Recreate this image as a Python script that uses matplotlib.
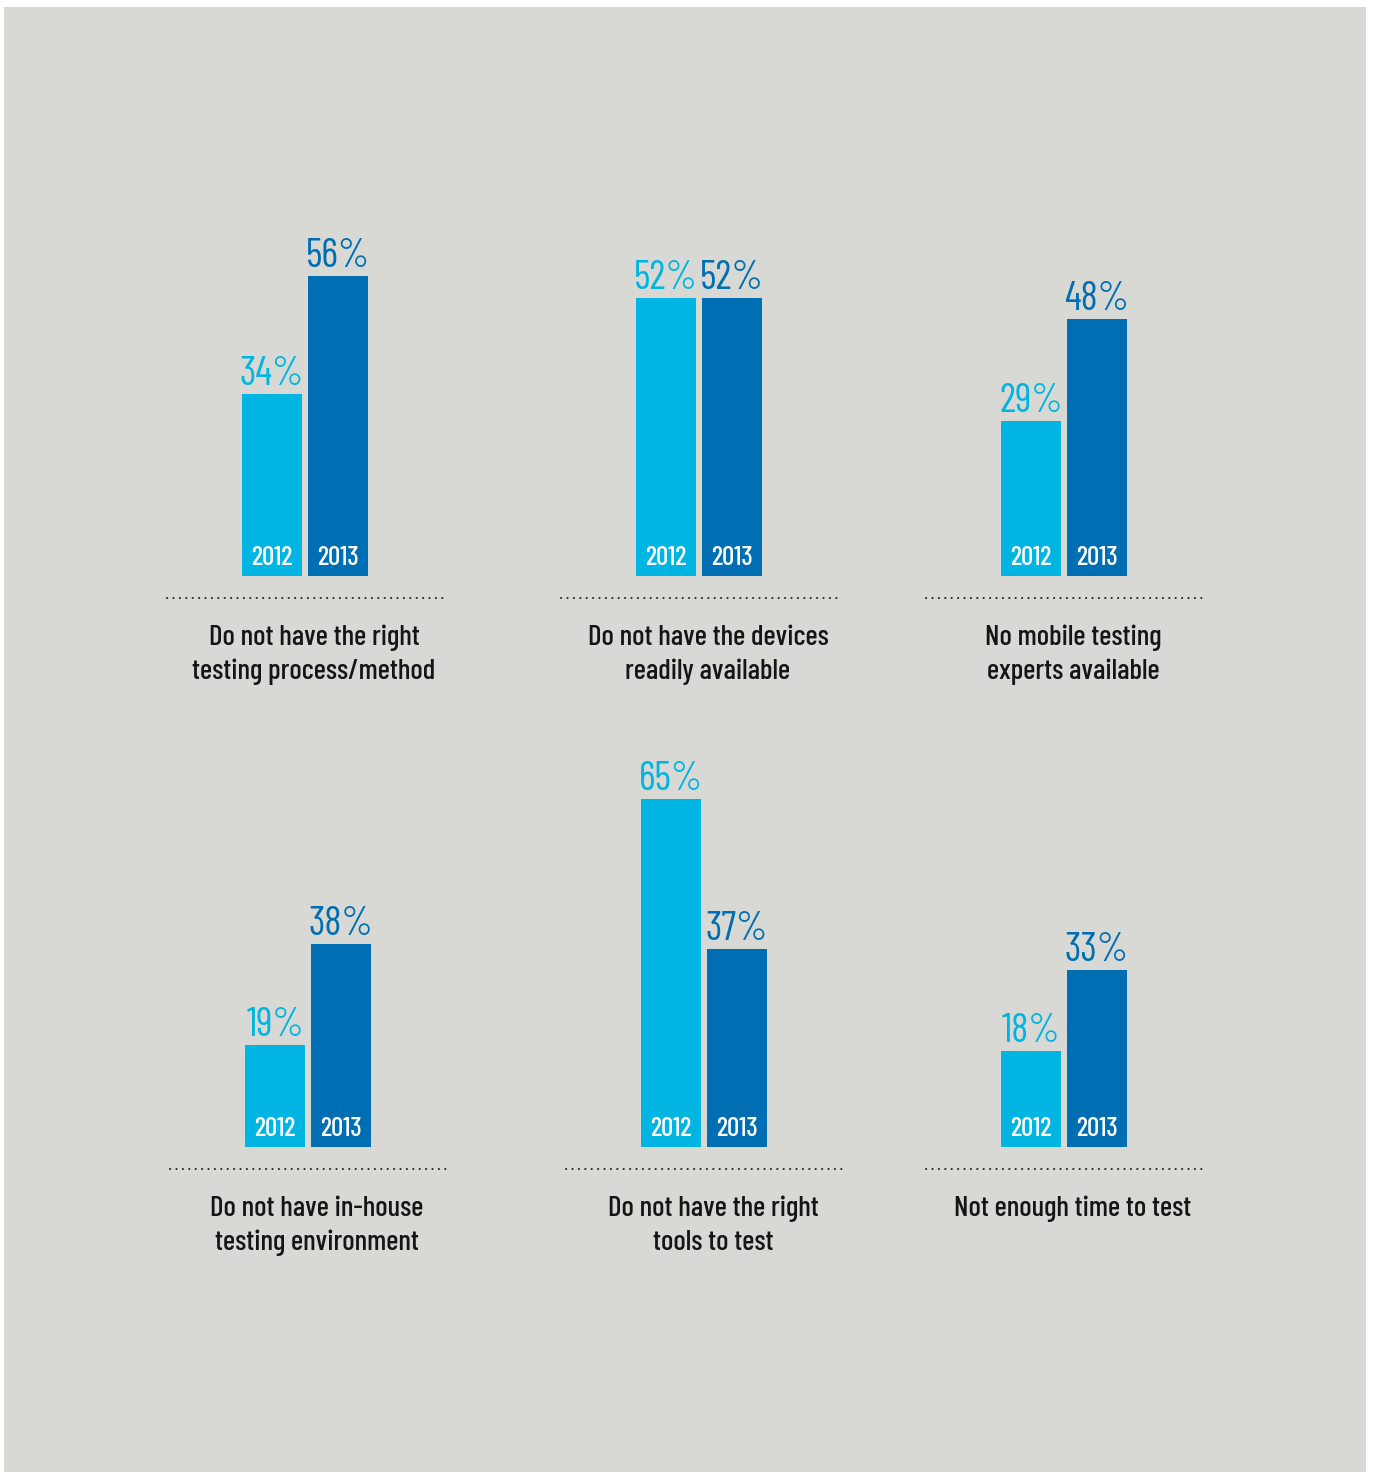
import matplotlib
matplotlib.use('Agg')
import matplotlib.pyplot as plt
from matplotlib.patches import Rectangle

# data
categories = [
    "Do not have the right\ntesting process/method",
    "Do not have the devices\nreadily available",
    "No mobile testing\nexperts available",
    "Do not have in-house\ntesting environment",
    "Do not have the right\ntools to test",
    "Not enough time to test",
]
years = ["2012", "2013"]
pct_2012 = [34, 52, 29, 19, 65, 18]
pct_2013 = [56, 52, 48, 38, 37, 33]

# styling
c_light = "#00B5E2"
c_dark = "#006EB3"
bg = "#D8D9D4"
plt.rcParams['font.family'] = ['Barlow Condensed', 'DejaVu Sans']

W, H = 1373, 1473
DPI = 72  # 1 pt == 1 px
fig = plt.figure(figsize=(W / DPI, H / DPI), dpi=DPI, facecolor="white")

# grey panel
fig.patches.append(Rectangle((4 / W, 1 - 1472 / H), (1366 - 4) / W, (1472 - 7) / H,
                             transform=fig.transFigure, facecolor=bg, edgecolor="none", zorder=-10))

PX_PER_PCT = 5.35
AX_W = 276
AX_H = 380
centers = [(305, 576), (699, 576), (1064, 576), (308, 1147), (704, 1147), (1064, 1147)]

for i, (cx, base) in enumerate(centers):
    ax = fig.add_axes([(cx - AX_W / 2) / W, 1 - base / H, AX_W / W, AX_H / H])
    ax.set_facecolor("none")
    vals = [pct_2012[i], pct_2013[i]]
    cols = [c_light, c_dark]
    ax.bar([0, 1], vals, width=60 / 66, color=cols, linewidth=0)
    ax.set_xlim(0.5 - (AX_W / 2) / 66, 0.5 + (AX_W / 2) / 66)
    ax.set_ylim(0, AX_H / PX_PER_PCT)
    ax.axis("off")

    for x, v, c, yr in zip([0, 1], vals, cols, years):
        ax.annotate(f"{v}%", (x, v), xytext=(0, 9), textcoords="offset points",
                    ha="center", va="baseline", fontsize=40, fontweight="normal", color=c)
        ax.annotate(yr, (x, 0), xytext=(0, 11), textcoords="offset points",
                    ha="center", va="baseline", fontsize=27, fontweight="medium", color="white")

    # dotted separator
    ax.axhline(-22 / PX_PER_PCT, xmin=0, xmax=1, color="#222222", linewidth=2,
               linestyle=(0, (0.1, 3.1)), dash_capstyle="round", clip_on=False)

    for j, line in enumerate(categories[i].split("\n")):
        ax.annotate(line, (0.5, 0), xycoords="axes fraction",
                    xytext=(9, -69 - 34 * j), textcoords="offset points",
                    ha="center", va="baseline", fontsize=29, fontweight="medium", color="#151515")

fig.savefig("out.png", dpi=DPI, facecolor="white")
